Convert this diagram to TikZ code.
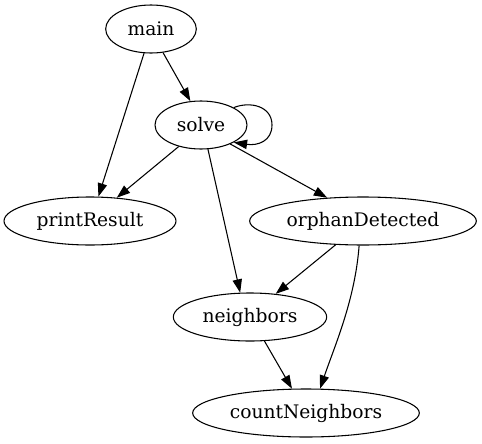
\documentclass[tikz,border=0pt]{standalone}
\usepackage{fontspec}
\setmainfont{DejaVu Serif}
\usetikzlibrary{shapes.geometric,arrows.meta}
\begin{document}
\begin{tikzpicture}[x=0.75pt,y=-0.75pt,
  gnode/.style={draw,ellipse,inner sep=0pt,minimum height=36pt,line width=0.8pt,font=\fontsize{14}{16}\selectfont},
  edge/.style={line width=0.8pt,-{Triangle[length=10pt,width=7pt]}}]
\useasboundingbox (0,0) rectangle (482,443);
\node[gnode,minimum width=68pt] (main) at (151,29) {main};
\node[gnode,minimum width=69pt] (solve) at (201,125) {solve};
\node[gnode,minimum width=129pt] (printResult) at (90,221) {printResult};
\node[gnode,minimum width=170pt] (orphanDetected) at (363,221) {orphanDetected};
\node[gnode,minimum width=115pt] (neighbors) at (250,317) {neighbors};
\node[gnode,minimum width=170pt] (countNeighbors) at (306,413) {countNeighbors};
\draw[edge] (main.254) -- (printResult.71.6);
\draw[edge] (main.-63.4) -- (solve.114.6);
\draw[edge] (solve.28) .. controls (250,101) and (272,106) .. (272,125) .. controls (272,141) and (258,146) .. (solve.-28);
\draw[edge] (solve.-136) -- (printResult.41.6);
\draw[edge] (solve.-74) -- (neighbors.112.6);
\draw[edge] (solve.-33) -- (orphanDetected.147.7);
\draw[edge] (orphanDetected.-139.4) -- (neighbors.42.6);
\draw[edge] (orphanDetected.-99.5) .. controls (355,300) and (335,345) .. (countNeighbors.60);
\draw[edge] (neighbors.-59.7) -- (countNeighbors.120);
\end{tikzpicture}
\end{document}
